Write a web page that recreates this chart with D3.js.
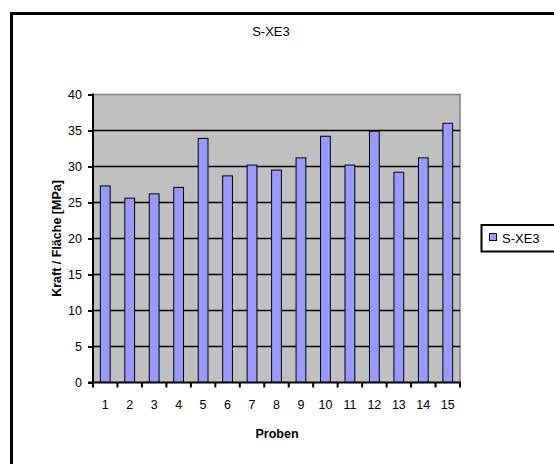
<!DOCTYPE html>
<html>
<head>
<meta charset="utf-8">
<script src="https://cdn.jsdelivr.net/npm/d3@7"></script>
<style>
  html, body { margin: 0; padding: 0; background: #fff; }
  svg { display: block; font-family: "Liberation Sans", Arial, sans-serif; }
</style>
</head>
<body>
<svg id="chart" width="554" height="464"></svg>
<script>
// Probe numbers and measured strength per probe
const probes = ["1","2","3","4","5","6","7","8","9","10","11","12","13","14","15"];
const strength = [27.3, 25.6, 26.2, 27.1, 33.9, 28.7, 30.2, 29.5, 31.2, 34.2, 30.2, 34.9, 29.2, 31.2, 36.0];
const yTicks = [0, 5, 10, 15, 20, 25, 30, 35, 40];
const seriesName = "S-XE3";

const svg = d3.select("#chart");
const W = 554, H = 464;

// Chart frame (runs off the right and bottom edge)
svg.append("path")
  .attr("d", `M11.5,${H + 5} L11.5,13.5 L${W + 5},13.5`)
  .attr("fill", "none").attr("stroke", "#000").attr("stroke-width", 3);

const plot = { left: 93, right: 460, top: 94.5, bottom: 382.5 };

const x = d3.scaleBand().domain(probes).range([plot.left, plot.right]).paddingInner(0.6).paddingOuter(0.3);
const xCat = d3.scaleBand().domain(probes).range([plot.left, plot.right]);
const y = d3.scaleLinear().domain([0, 40]).range([plot.bottom, plot.top]);

// Plot area background
svg.append("rect")
  .attr("x", plot.left).attr("y", plot.top)
  .attr("width", plot.right - plot.left).attr("height", plot.bottom - plot.top)
  .attr("fill", "#c0c0c0");

// Plot area border (top and right)
svg.append("path")
  .attr("d", `M${plot.left},${plot.top} L${plot.right},${plot.top} L${plot.right},${plot.bottom}`)
  .attr("fill", "none").attr("stroke", "#808080").attr("stroke-width", 1.5);

// Horizontal gridlines
svg.append("g").selectAll("line")
  .data(yTicks.filter(t => t > 0 && t < 40))
  .join("line")
  .attr("x1", plot.left).attr("x2", plot.right)
  .attr("y1", d => y(d)).attr("y2", d => y(d))
  .attr("stroke", "#000").attr("stroke-width", 1.5);

// Bars
svg.append("g").selectAll("rect")
  .data(strength)
  .join("rect")
  .attr("x", (d, i) => x(probes[i]))
  .attr("y", d => y(d))
  .attr("width", x.bandwidth())
  .attr("height", d => y(0) - y(d))
  .attr("fill", "#9999ff")
  .attr("stroke", "#000").attr("stroke-width", 1);

// Y axis
const yAxis = svg.append("g")
  .attr("transform", `translate(${plot.left},0)`)
  .call(d3.axisLeft(y).tickValues(yTicks).tickSize(5).tickPadding(6));
yAxis.select(".domain").attr("stroke-width", 2).attr("d", `M0,${plot.top - 1}V${plot.bottom}`);
yAxis.selectAll(".tick line").attr("stroke-width", 2);
yAxis.selectAll("text").attr("font-size", 12.5).attr("fill", "#000")
  .attr("font-family", "'Liberation Sans', Arial, sans-serif");

// X axis: ticks at category boundaries
const xAxis = svg.append("g").attr("transform", `translate(0,${plot.bottom})`);
xAxis.append("line")
  .attr("x1", plot.left - 5).attr("x2", plot.right + 1)
  .attr("stroke", "#000").attr("stroke-width", 2);
const bounds = probes.map(p => xCat(p)).concat([plot.right]);
xAxis.selectAll("line.tk").data(bounds).join("line").attr("class", "tk")
  .attr("x1", d => d).attr("x2", d => d).attr("y1", 0).attr("y2", 5)
  .attr("stroke", "#000").attr("stroke-width", 2);
xAxis.selectAll("text").data(probes).join("text")
  .attr("x", d => xCat(d) + xCat.bandwidth() / 2)
  .attr("y", 26)
  .attr("text-anchor", "middle")
  .attr("font-size", 12.5)
  .text(d => d);

// Title
svg.append("text")
  .attr("x", 271).attr("y", 36)
  .attr("text-anchor", "middle").attr("font-size", 13)
  .text("S-XE3");

// Axis titles
svg.append("text")
  .attr("x", 277).attr("y", 438)
  .attr("text-anchor", "middle").attr("font-size", 12.5).attr("font-weight", "bold")
  .text("Proben");
svg.append("text")
  .attr("transform", `translate(61,${(plot.top + plot.bottom) / 2}) rotate(-90)`)
  .attr("text-anchor", "middle").attr("font-size", 12.5).attr("font-weight", "bold")
  .text("Kraft / Fläche [MPa]");

// Legend
const lg = svg.append("g");
lg.append("rect").attr("x", 481.5).attr("y", 225).attr("width", 80).attr("height", 26.5)
  .attr("fill", "#fff").attr("stroke", "#000").attr("stroke-width", 2);
lg.append("rect").attr("x", 489.5).attr("y", 233.5).attr("width", 7).attr("height", 7)
  .attr("fill", "#9999ff").attr("stroke", "#000").attr("stroke-width", 1);
lg.append("text").attr("x", 502).attr("y", 242.5).attr("font-size", 13).text(seriesName);
</script>
</body>
</html>
